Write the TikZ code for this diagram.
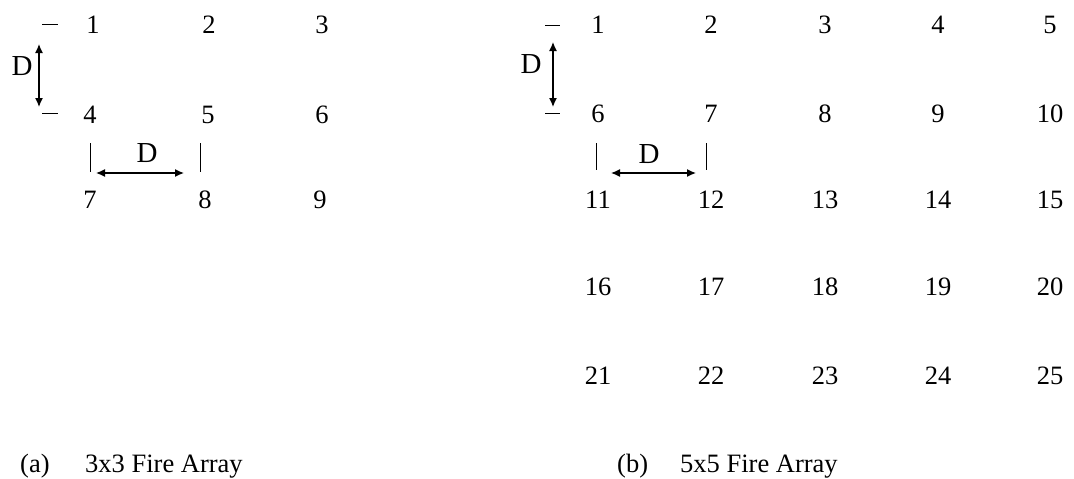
\documentclass[tikz,border=0pt]{standalone}
\usepackage{fontspec}
\setmainfont{Liberation Serif}
\usetikzlibrary{arrows.meta}
\tikzset{
  num/.style={anchor=base,inner sep=0pt,font=\fontsize{26.5}{30}\selectfont},
  dlab/.style={anchor=center,inner sep=0pt,font=\fontsize{29}{33}\selectfont},
  captext/.style={anchor=base west,inner sep=0pt,font=\fontsize{26.5}{30}\selectfont},
  dimarrow/.style={line width=1.3pt,{Latex[length=9pt,width=8pt]}-{Latex[length=9pt,width=8pt]}},
  tickline/.style={line width=1pt},
}
\begin{document}
\begin{tikzpicture}[x=1pt,y=-1pt]
\useasboundingbox (0,0) rectangle (1074,479);
% ---- (a) 3x3 ----
\foreach \n/\x/\y in {1/93/33,2/209/33,3/322/33,4/90/123,5/208/123,6/322/123,7/90/208,8/205/208,9/320/208}
  \node[num] (a\n) at (\x,\y) {\n};
\draw[tickline] (42,24) -- (58,24);
\draw[tickline] (42,113) -- (58,113);
\coordinate (av1) at (39,44);
\coordinate (av2) at (39,107);
\draw[dimarrow] (av1) -- (av2);
\node[dlab] (aD1) at (22,66) {D};
\draw[tickline] (90,143) -- (90,172);
\draw[tickline] (200,143) -- (200,172);
\coordinate (ah1) at (96,173);
\coordinate (ah2) at (184,173);
\draw[dimarrow] (ah1) -- (ah2);
\node[dlab] (aD2) at (147,153) {D};
% ---- (b) 5x5 ----
\foreach \r/\y in {0/33,1/122,2/208,3/295,4/384}{
  \foreach \c/\x in {1/598,2/711,3/825,4/938,5/1050}{
    \pgfmathtruncatemacro{\k}{\r*5+\c}
    \node[num] (b\k) at (\x,\y) {\k};
  }
}
\draw[tickline] (545,25) -- (560,25);
\draw[tickline] (545,113) -- (560,113);
\coordinate (bv1) at (553,42);
\coordinate (bv2) at (553,107);
\draw[dimarrow] (bv1) -- (bv2);
\node[dlab] (bD1) at (531,64) {D};
\draw[tickline] (596,143) -- (596,170);
\draw[tickline] (706,143) -- (706,170);
\coordinate (bh1) at (611,173);
\coordinate (bh2) at (696,173);
\draw[dimarrow] (bh1) -- (bh2);
\node[dlab] (bD2) at (649,154) {D};
% ---- captions ----
\node[captext] (capa1) at (20,472) {(a)};
\node[captext] (capa2) at (85,472) {3x3 Fire Array};
\node[captext] (capb1) at (617,472) {(b)};
\node[captext] (capb2) at (680,472) {5x5 Fire Array};
\end{tikzpicture}
\end{document}
